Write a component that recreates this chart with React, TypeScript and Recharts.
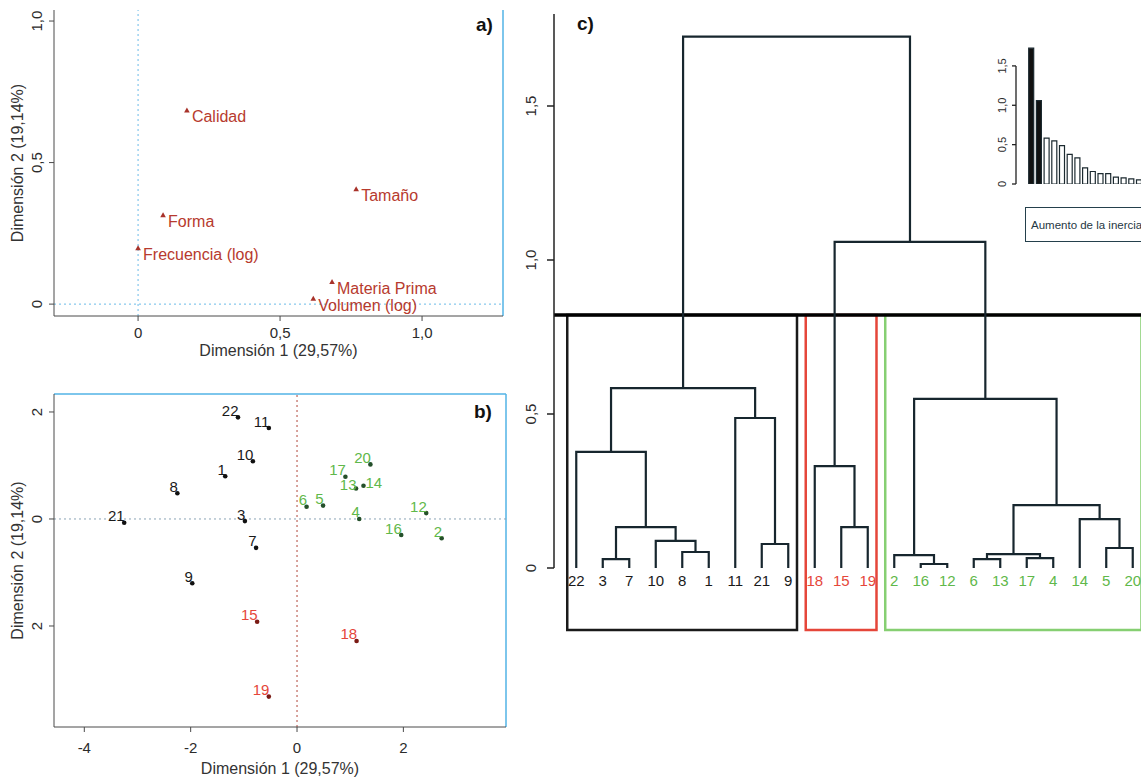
import React from "react";
import {
  ScatterChart,
  Scatter,
  XAxis,
  YAxis,
  ReferenceLine,
  ReferenceArea,
  BarChart,
  Bar,
  Cell,
  Legend,
  Label,
} from "recharts";

const FONT = "'Liberation Sans', Arial, Helvetica, sans-serif";
const TICK_COLOR = "#2b2b2b";

// ---------------- Panel a) : variables ----------------
const varNames = ["Calidad", "Tamaño", "Forma", "Frecuencia (log)", "Materia Prima", "Volumen (log)"];
const varDim1 = [0.172, 0.768, 0.088, 0.0, 0.683, 0.617];
const varDim2 = [0.683, 0.405, 0.313, 0.197, 0.077, 0.018];
const aXDomain = [-0.296, 1.285];
const aYDomain = [-0.042, 1.039];
const aTicks = [0, 0.5, 1.0];
const aTickLabels = ["0", "0,5", "1,0"];

// ---------------- Panel b) : observations ----------------
const obsIds = [22, 11, 10, 1, 8, 21, 3, 7, 9, 15, 18, 19, 6, 5, 17, 20, 13, 14, 4, 12, 16, 2];
const obsDim1 = [-1.11, -0.53, -0.83, -1.35, -2.25, -3.25, -0.98, -0.77, -1.97, -0.75, 1.12, -0.53, 0.18, 0.49, 0.91, 1.38, 1.11, 1.25, 1.17, 2.43, 1.96, 2.72];
const obsDim2 = [1.9, 1.7, 1.08, 0.8, 0.48, -0.07, -0.04, -0.54, -1.2, -1.92, -2.28, -3.32, 0.23, 0.25, 0.79, 1.02, 0.57, 0.62, 0.0, 0.11, -0.3, -0.36];
const obsLabelRight = [14];
const obsLabelLevel = [13, 14];
const bXDomain = [-4.57, 3.93];
const bYDomain = [-3.888, 2.336];
const bXTicks = [-4, -2, 0, 2];
const bXTickLabels = ["-4", "-2", "0", "2"];
const bYTicks = [-2, 0, 2];
const bYTickLabels = ["2", "0", "2"];

const axisTitle1 = "Dimensión 1 (29,57%)";
const axisTitle2 = "Dimensión 2 (19,14%)";

// ---------------- Clusters ----------------
const clusterBlack = [22, 3, 7, 10, 8, 1, 11, 21, 9];
const clusterRed = [18, 15, 19];
const clusterGreen = [2, 16, 12, 6, 13, 17, 4, 14, 5, 20];
const clusters = [clusterBlack, clusterRed, clusterGreen];
const labelColors = ["#1a1a1a", "#e5463a", "#5fb84a"];
const dotColors = ["#111111", "#7a1a14", "#24502a"];
const boxColors = ["#1a1a1a", "#e5463a", "#86cf72"];

// ---------------- Panel c) : dendrogram (hclust style merges) ----------------
const mergeLeft = [-16, -3, -6, -17, -2, 3, -8, -5, -21, -10, 2, -15, -14, 6, -18, -22, -11, 5, 16, 15, 19];
const mergeRight = [-12, -7, -13, -4, 1, 4, -1, -20, -9, 7, 10, -19, 8, 13, 12, 11, 9, 14, 17, 18, 20];
const mergeHeight = [0.013, 0.029, 0.029, 0.032, 0.042, 0.045, 0.052, 0.065, 0.078, 0.088, 0.133, 0.133, 0.159, 0.204, 0.331, 0.377, 0.487, 0.549, 0.584, 1.059, 1.725];
const cXDomain = [0.16, 22.84];
const cYDomain = [-0.2013, 1.7987];
const cTicks = [0, 0.5, 1, 1.5];
const cTickLabels = ["0", "0,5", "1,0", "1,5"];
const insetTitle = "Aumento de la inercia";
const insetYDomain = [0, 1.8];

// ---------------- Derived structures ----------------
const clusterOf = (id: number) => clusters.findIndex((c) => c.includes(id));

const aData = varNames.map((name, i) => ({ x: varDim1[i], y: varDim2[i], name }));
const bData = clusters.map((_, k) =>
  obsIds
    .map((id, i) => ({ x: obsDim1[i], y: obsDim2[i], id, k: clusterOf(id) }))
    .filter((d) => d.k === k)
);

const leafOrder = [...clusterBlack, ...clusterRed, ...clusterGreen];
const leafPos = new Map<number, number>(leafOrder.map((id, i) => [id, i + 1]));
const nodeX: number[] = [];
const nodeH: number[] = [];
const childOf = (ref: number) =>
  ref < 0 ? { x: leafPos.get(-ref) as number, h: 0 } : { x: nodeX[ref - 1], h: nodeH[ref - 1] };
const segments = mergeHeight.map((h, i) => {
  const L = childOf(mergeLeft[i]);
  const R = childOf(mergeRight[i]);
  nodeX[i] = (L.x + R.x) / 2;
  nodeH[i] = h;
  return [
    { x: L.x, y: L.h },
    { x: L.x, y: h },
    { x: R.x, y: h },
    { x: R.x, y: R.h },
  ];
});
const leafData = leafOrder.map((id, i) => ({ x: i + 1, y: 0, id, k: clusterOf(id) }));
const sortedHeights = [...mergeHeight].sort((a, b) => b - a);
const cutHeight = (sortedHeights[1] + sortedHeights[2]) / 2;
let acc = 0;
const boxes = clusters.map((c, k) => {
  const b = { x1: acc + 0.66, x2: acc + c.length + 0.33, k };
  acc += c.length;
  return b;
});
const insetData = sortedHeights.map((h, i) => ({ i: i + 1, h }));

// ---------------- Helpers ----------------
const rotTick = (ticks: number[], labels: string[], fontSize: number) => (p: any) => {
  const { x, y, payload } = p;
  const i = ticks.findIndex((t) => Math.abs(t - payload.value) < 1e-9);
  return (
    <text
      x={x}
      y={y}
      transform={`rotate(-90 ${x} ${y})`}
      textAnchor="middle"
      fontSize={fontSize}
      fill={TICK_COLOR}
      fontFamily={FONT}
    >
      {labels[i]}
    </text>
  );
};

const fmtFrom = (ticks: number[], labels: string[]) => (v: number) => {
  const i = ticks.findIndex((t) => Math.abs(t - v) < 1e-9);
  return i >= 0 ? labels[i] : String(v);
};

const xTitle = (text: string, dyBaseline: number) => (p: any) => {
  const vb = p.viewBox || {};
  return (
    <text x={vb.x + vb.width / 2} y={vb.y + dyBaseline} textAnchor="middle" fontSize={16} fill="#333" fontFamily={FONT}>
      {text}
    </text>
  );
};

const yTitle = (text: string, cx: number) => (p: any) => {
  const vb = p.viewBox || {};
  const cy = vb.y + vb.height / 2;
  return (
    <text
      x={cx}
      y={cy}
      transform={`rotate(-90 ${cx} ${cy})`}
      textAnchor="middle"
      dominantBaseline="central"
      fontSize={16}
      fill="#333"
      fontFamily={FONT}
    >
      {text}
    </text>
  );
};

const VarMarker = (p: any) => {
  const { cx, cy, payload } = p;
  return (
    <g>
      <path d={`M${cx},${cy - 3.2}L${cx + 2.8},${cy + 1.8}L${cx - 2.8},${cy + 1.8}Z`} fill="#a8322a" />
      <text x={cx + 5} y={cy + 11.5} fontSize={16} fill="#b73a2e" fontFamily={FONT}>
        {payload.name}
      </text>
    </g>
  );
};

const ObsDot = (p: any) => {
  const { cx, cy, payload } = p;
  const right = obsLabelRight.includes(payload.id);
  const level = obsLabelLevel.includes(payload.id);
  return (
    <g>
      <circle cx={cx} cy={cy} r={2.3} fill={dotColors[payload.k]} />
      <text
        x={right ? cx + 2 : cx + 0.5}
        y={level ? cy + 2 : cy - 1.5}
        textAnchor={right ? "start" : "end"}
        fontSize={15}
        fill={labelColors[payload.k]}
        fontFamily={FONT}
      >
        {payload.id}
      </text>
    </g>
  );
};

const LeafLabel = (p: any) => {
  const { cx, cy, payload } = p;
  return (
    <text x={cx} y={cy + 18} textAnchor="middle" fontSize={15} fill={labelColors[payload.k]} fontFamily={FONT}>
      {payload.id}
    </text>
  );
};

const NoShape = () => <g />;

const panelLetter = (text: string, left: number, top: number) => (
  <div
    style={{
      position: "absolute",
      left,
      top,
      fontFamily: FONT,
      fontWeight: "bold",
      fontSize: 19,
      lineHeight: "22px",
      color: "#111",
    }}
  >
    {text}
  </div>
);

const tickStyle = { fill: TICK_COLOR, fontSize: 15, fontFamily: FONT };
const BLUE = "#52b3e6";
const FRAME = "#4a4a4a";

// chart c geometry
const C_W = 655;
const C_H = 650;
const C_M = { top: 14, right: 0, bottom: 20, left: 0 };
const cPlotH = C_H - C_M.top - C_M.bottom;
const cAxisDash = ((cYDomain[1] - 0) / (cYDomain[1] - cYDomain[0])) * cPlotH;

// inset geometry
const I_W = 240;
const I_H = 260;
const I_M = { top: 42.3, right: 0, bottom: 76, left: 0 };
const iPlotH = I_H - I_M.top - I_M.bottom;
const iAxisGap = ((insetYDomain[1] - cTicks[cTicks.length - 1]) / (insetYDomain[1] - insetYDomain[0])) * iPlotH;

export default function App() {
  return (
    <div
      style={{
        position: "absolute",
        left: 0,
        top: 0,
        width: 1141,
        height: 780,
        overflow: "hidden",
        background: "#fff",
        fontFamily: FONT,
      }}
    >
      {/* Panel a */}
      <div style={{ position: "absolute", left: 0, top: 0 }}>
        <ScatterChart width={520} height={370} margin={{ top: 10, right: 17, bottom: 0, left: 0 }}>
          <XAxis
            type="number"
            dataKey="x"
            domain={aXDomain}
            ticks={aTicks}
            tickFormatter={fmtFrom(aTicks, aTickLabels)}
            height={54}
            tickSize={5}
            tickMargin={6.7}
            stroke={FRAME}
            tick={tickStyle}
            allowDataOverflow
          >
            <Label content={xTitle(axisTitle1, 40)} />
          </XAxis>
          <YAxis
            type="number"
            dataKey="y"
            domain={aYDomain}
            ticks={aTicks}
            width={54}
            tickSize={5}
            tickMargin={6.6}
            stroke={FRAME}
            tick={rotTick(aTicks, aTickLabels, 15)}
            allowDataOverflow
          >
            <Label content={yTitle(axisTitle2, 17)} />
          </YAxis>
          <ReferenceLine x={aXDomain[1]} stroke={BLUE} strokeWidth={1.5} />
          <ReferenceLine x={0} stroke="#6bbbe8" strokeDasharray="2 3" />
          <ReferenceLine y={0} stroke="#6bbbe8" strokeDasharray="2 3" />
          <Scatter data={aData} shape={VarMarker} isAnimationActive={false} />
        </ScatterChart>
      </div>

      {/* Panel b */}
      <div style={{ position: "absolute", left: 0, top: 380 }}>
        <ScatterChart width={520} height={400} margin={{ top: 14, right: 14, bottom: 0, left: 0 }}>
          <XAxis
            type="number"
            dataKey="x"
            domain={bXDomain}
            ticks={bXTicks}
            tickFormatter={fmtFrom(bXTicks, bXTickLabels)}
            height={53}
            tickSize={5}
            tickMargin={10.6}
            stroke={FRAME}
            tick={tickStyle}
            allowDataOverflow
          >
            <Label content={xTitle(axisTitle1, 46.7)} />
          </XAxis>
          <YAxis
            type="number"
            dataKey="y"
            domain={bYDomain}
            ticks={bYTicks}
            width={54}
            tickSize={5}
            tickMargin={6.6}
            stroke={FRAME}
            tick={rotTick(bYTicks, bYTickLabels, 15)}
            allowDataOverflow
          >
            <Label content={yTitle(axisTitle2, 17)} />
          </YAxis>
          <ReferenceLine x={bXDomain[1]} stroke={BLUE} strokeWidth={1.5} />
          <ReferenceLine y={bYDomain[1]} stroke={BLUE} strokeWidth={1.5} />
          <ReferenceLine x={0} stroke="#b0473a" strokeDasharray="2 3" />
          <ReferenceLine y={0} stroke="#8aa3b5" strokeDasharray="2 3" />
          {bData.map((d, k) => (
            <Scatter key={k} data={d} shape={ObsDot} isAnimationActive={false} />
          ))}
        </ScatterChart>
      </div>

      {/* Panel c */}
      <div style={{ position: "absolute", left: 500, top: 0 }}>
        <ScatterChart width={C_W} height={C_H} margin={C_M}>
          <XAxis type="number" dataKey="x" domain={cXDomain} hide allowDataOverflow />
          <YAxis
            type="number"
            dataKey="y"
            domain={cYDomain}
            ticks={cTicks}
            width={54}
            tickSize={7}
            tickMargin={10.6}
            axisLine={{ stroke: "#222", strokeWidth: 1.5, strokeDasharray: `${cAxisDash} 3000` }}
            tickLine={{ stroke: "#222", strokeWidth: 1.5 }}
            tick={rotTick(cTicks, cTickLabels, 15)}
            allowDataOverflow
          />
          {boxes.map((b) => (
            <ReferenceArea
              key={b.k}
              x1={b.x1}
              x2={b.x2}
              y1={cYDomain[0]}
              y2={cutHeight}
              fill="none"
              fillOpacity={0}
              stroke={boxColors[b.k]}
              strokeWidth={2.5}
              ifOverflow="visible"
            />
          ))}
          <ReferenceLine y={cutHeight} stroke="#000" strokeWidth={3.5} />
          {segments.map((seg, i) => (
            <Scatter
              key={i}
              data={seg}
              line={{ stroke: "#17262e", strokeWidth: 2.2 }}
              lineType="joint"
              shape={NoShape}
              isAnimationActive={false}
            />
          ))}
          <Scatter data={leafData} shape={LeafLabel} isAnimationActive={false} />
        </ScatterChart>
      </div>

      {/* Inset: inertia increase */}
      <div style={{ position: "absolute", left: 960, top: 0 }}>
        <BarChart width={I_W} height={I_H} data={insetData} margin={I_M} barCategoryGap={0}>
          <XAxis dataKey="i" type="category" hide padding={{ left: 11.7, right: 10.6 }} />
          <YAxis
            type="number"
            domain={insetYDomain}
            ticks={cTicks}
            width={56}
            tickSize={4}
            tickMargin={6}
            axisLine={{ stroke: "#222", strokeWidth: 1.3, strokeDasharray: `0 ${iAxisGap} 1000` }}
            tickLine={{ stroke: "#222", strokeWidth: 1.3 }}
            tick={rotTick(cTicks, cTickLabels, 11)}
            allowDataOverflow
          />
          <Bar dataKey="h" barSize={5} isAnimationActive={false}>
            {insetData.map((d, i) => (
              <Cell key={i} fill={i < clusters.length - 1 ? "#111" : "#fff"} stroke="#1c2a30" strokeWidth={1.2} />
            ))}
          </Bar>
          <Legend
            layout="vertical"
            align="center"
            verticalAlign="middle"
            wrapperStyle={{ left: 65, top: 207, width: "auto", height: "auto" }}
            content={() => (
              <div
                style={{
                  border: "1.6px solid #24404c",
                  width: 150,
                  height: 35,
                  boxSizing: "border-box",
                  display: "flex",
                  alignItems: "center",
                  paddingLeft: 5,
                  fontSize: 11.5,
                  color: "#1f3844",
                  fontFamily: FONT,
                  whiteSpace: "nowrap",
                }}
              >
                {insetTitle}
              </div>
            )}
          />
        </BarChart>
      </div>

      {panelLetter("a)", 476, 14)}
      {panelLetter("b)", 474, 401)}
      {panelLetter("c)", 577, 13)}
    </div>
  );
}
